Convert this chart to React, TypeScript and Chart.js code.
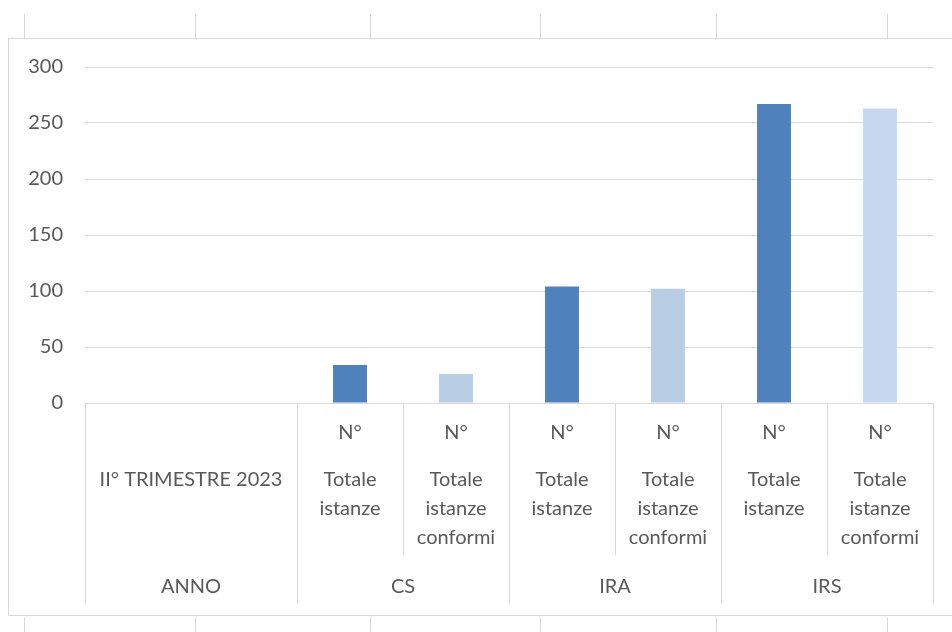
import React, { useEffect, useRef } from 'react';
import { Chart, registerables } from 'chart.js';

Chart.register(...registerables);

// ---- data ----
const groups = ['ANNO', 'CS', 'IRA', 'IRS'];
const periodLabel = 'II° TRIMESTRE 2023';
const unitLabels = ['', '', 'N°', 'N°', 'N°', 'N°', 'N°', 'N°'];
const measureLabels: string[][] = [
  [''],
  [''],
  ['Totale', 'istanze'],
  ['Totale', 'istanze', 'conformi'],
  ['Totale', 'istanze'],
  ['Totale', 'istanze', 'conformi'],
  ['Totale', 'istanze'],
  ['Totale', 'istanze', 'conformi'],
];
const values: (number | null)[] = [null, null, 34, 26, 104, 102, 267, 263];
const barColors = ['#4F81BD', '#4F81BD', '#4F81BD', '#B9CDE5', '#4F81BD', '#B9CDE5', '#4F81BD', '#C6D9F1'];
const yMin = 0;
const yMax = 300;
const yStep = 50;

// ---- styles ----
const FONT = 'Lato, "Open Sans", sans-serif';
const TEXT = '#595959';
const LINE = '#D9D9D9';
const FS = 20;
const MID_LH = 29;

const periodPlugin = {
  id: 'periodLabel',
  afterDraw(chart: any) {
    const g = chart.scales.x2;
    const m = chart.scales.xMid;
    if (!g || !m) return;
    const x = g.getPixelForTick(0);
    const y = m.top + m.options.grid.tickLength + m.options.ticks.padding + MID_LH / 2;
    const ctx = chart.ctx;
    ctx.save();
    ctx.font = `${FS}px ${FONT}`;
    ctx.fillStyle = TEXT;
    ctx.textAlign = 'center';
    ctx.textBaseline = 'middle';
    ctx.fillText(periodLabel, x, y);
    ctx.restore();
  },
};

const gridColor = (ctx: any) => (ctx.index === 1 ? 'rgba(0,0,0,0)' : LINE);

export default function App() {
  const ref = useRef<HTMLCanvasElement | null>(null);

  useEffect(() => {
    if (!ref.current) return;
    const chart = new Chart(ref.current, {
      type: 'bar',
      data: {
        labels: unitLabels,
        datasets: [
          {
            data: values,
            backgroundColor: barColors,
            borderColor: barColors,
            borderWidth: 0,
            categoryPercentage: 1,
            barPercentage: 0.32,
          } as any,
        ],
      },
      plugins: [periodPlugin],
      options: {
        responsive: false,
        animation: false,
        events: [],
        layout: { padding: { left: 0, top: 67, right: 19, bottom: 29 } },
        plugins: {
          legend: { display: false },
          tooltip: { enabled: false },
          title: { display: false },
        },
        scales: {
          y: {
            min: yMin,
            max: yMax,
            ticks: {
              stepSize: yStep,
              color: TEXT,
              font: { family: FONT, size: FS },
              padding: 22,
            },
            grid: { color: LINE, lineWidth: 1, drawTicks: false },
            border: { display: false },
            afterFit: (s: any) => {
              s.width = 85;
            },
          },
          x: {
            type: 'category',
            position: 'bottom',
            weight: 0,
            labels: unitLabels,
            offset: true,
            grid: {
              offset: true,
              drawOnChartArea: false,
              drawTicks: true,
              tickLength: 45,
              color: gridColor,
              lineWidth: 1,
            },
            border: { display: true, color: LINE, width: 1 },
            ticks: {
              color: TEXT,
              font: { family: FONT, size: FS, lineHeight: 1.2 },
              padding: -27,
              maxRotation: 0,
              minRotation: 0,
              autoSkip: false,
            },
            afterFit: (s: any) => {
              s.height = 45;
            },
          },
          xMid: {
            type: 'category',
            position: 'bottom',
            weight: 1,
            labels: measureLabels as any,
            offset: true,
            grid: {
              offset: true,
              drawOnChartArea: false,
              drawTicks: true,
              tickLength: 107,
              color: gridColor,
              lineWidth: 1,
            },
            border: { display: false },
            ticks: {
              color: TEXT,
              font: { family: FONT, size: FS, lineHeight: `${MID_LH}px` },
              padding: -90,
              maxRotation: 0,
              minRotation: 0,
              autoSkip: false,
            },
            afterFit: (s: any) => {
              s.height = 107;
            },
          },
          x2: {
            type: 'category',
            position: 'bottom',
            weight: 2,
            labels: groups,
            offset: true,
            grid: {
              offset: true,
              drawOnChartArea: false,
              drawTicks: true,
              tickLength: 48,
              color: LINE,
              lineWidth: 1,
            },
            border: { display: false },
            ticks: {
              color: TEXT,
              font: { family: FONT, size: FS, lineHeight: 1.2 },
              padding: -28,
              maxRotation: 0,
              minRotation: 0,
              autoSkip: false,
            },
            afterFit: (s: any) => {
              s.height = 48;
            },
          },
        } as any,
      },
    });
    return () => chart.destroy();
  }, []);

  const topTicks = [24, 195, 370, 540, 716, 887];

  return (
    <div
      style={{
        position: 'fixed',
        left: 0,
        top: 0,
        width: 952,
        height: 632,
        background: '#ffffff',
        overflow: 'hidden',
      }}
    >
      {topTicks.map((x) => (
        <div key={'t' + x} style={{ position: 'absolute', left: x, top: 14, width: 1, height: 24, background: LINE }} />
      ))}
      {topTicks.map((x) => (
        <div key={'b' + x} style={{ position: 'absolute', left: x, top: 618, width: 1, height: 14, background: LINE }} />
      ))}
      <div
        style={{
          position: 'absolute',
          left: 8,
          top: 38,
          width: 960,
          height: 578,
          border: `1px solid ${LINE}`,
          boxSizing: 'border-box',
        }}
      />
      <canvas ref={ref} width={952} height={632} style={{ position: 'absolute', left: 0, top: 0 }} />
    </div>
  );
}
